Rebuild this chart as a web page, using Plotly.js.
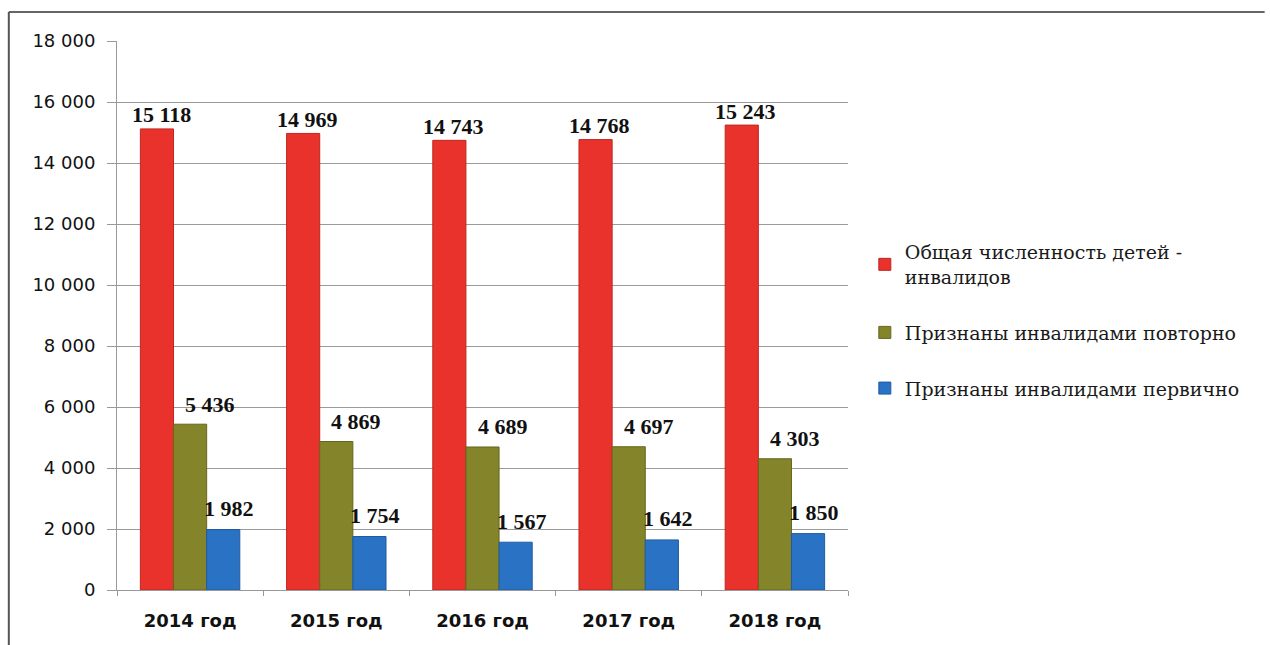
<!DOCTYPE html>
<html><head><meta charset="utf-8">
<script src="https://cdn.plot.ly/plotly-3.0.1.min.js"></script>
<style>html,body{margin:0;padding:0;background:#fff}#chart{width:1270px;height:645px}</style>
</head><body><div id="chart"></div>
<script>
const categories = ['2014 год', '2015 год', '2016 год', '2017 год', '2018 год'];
const totalChildren = [15118, 14969, 14743, 14768, 15243];
const repeatDisabled = [5436, 4869, 4689, 4697, 4303];
const firstDisabled = [1982, 1754, 1567, 1642, 1850];
const seriesNames = ['Общая численность детей -<br>инвалидов', 'Признаны инвалидами повторно', 'Признаны инвалидами первично'];
const yTicks = [0, 2000, 4000, 6000, 8000, 10000, 12000, 14000, 16000, 18000];
const yTickText = ['0', '2 000', '4 000', '6 000', '8 000', '10 000', '12 000', '14 000', '16 000', '18 000'];

const fmt = v => String(v).replace(/\B(?=(\d{3})+(?!\d))/g, ' ');
const colors = ['#e8322b', '#84842a', '#2a72c4'];
const lines = ['#c0261f', '#66661a', '#1f5ba3'];
const series = [totalChildren, repeatDisabled, firstDisabled];
const data = series.map((vals, i) => ({
  type: 'bar', x: categories, y: vals, name: seriesNames[i],
  marker: {color: colors[i], line: {color: lines[i], width: 1}},
  legendgroup: 'g' + i, hoverinfo: 'skip'
}));

// label placement styling (pixel offsets relative to each bar)
const barPx = 33;
const xShifts = [-barPx + 4, 20, barPx + 6];
const yShifts = [14, 20, 21];
const annotations = [];
series.forEach((vals, i) => {
  vals.forEach((v, k) => {
    annotations.push({x: categories[k], y: v, xref: 'x', yref: 'y', text: fmt(v), showarrow: false,
      xshift: xShifts[i], yshift: yShifts[i], xanchor: 'center', yanchor: 'middle',
      font: {family: 'Liberation Serif', size: 22, color: '#111', weight: 'bold'}});
  });
});

const layout = {
  width: 1270, height: 645,
  margin: {l: 117, r: 422, t: 41, b: 55},
  paper_bgcolor: '#fff', plot_bgcolor: '#fff',
  barmode: 'group', bargap: 0.32, bargroupgap: 0,
  showlegend: true,
  legend: {x: 1.023, y: 0.65, xanchor: 'left', yanchor: 'top', tracegroupgap: 28,
    font: {family: 'DejaVu Serif', size: 19, color: '#1a1a1a'}, itemwidth: 30},
  xaxis: {type: 'category', showline: true, linecolor: '#999', ticks: 'outside', tickson: 'boundaries',
    ticklen: 5, tickcolor: '#999', showgrid: false, ticklabelstandoff: 14,
    tickfont: {family: 'DejaVu Sans', size: 18, color: '#111', weight: 'bold'}},
  yaxis: {range: [0, 18000], tickvals: yTicks, ticktext: yTickText, showline: true, linecolor: '#999',
    ticks: 'outside', ticklen: 9, tickcolor: '#999', gridcolor: '#9a9a9a', gridwidth: 1, zeroline: false,
    ticklabelstandoff: 8,
    tickfont: {family: 'DejaVu Sans', size: 18, color: '#111'}},
  annotations: annotations,
  shapes: [
    {type: 'line', xref: 'paper', yref: 'paper', x0: -0.148, x1: 1.57, y0: 1.053, y1: 1.053, line: {color: '#666', width: 2}},
    {type: 'line', xref: 'paper', yref: 'paper', x0: -0.148, x1: -0.148, y0: 1.053, y1: -0.2, line: {color: '#555', width: 2}}
  ]
};
Plotly.newPlot('chart', data, layout, {displayModeBar: false});
</script></body></html>
